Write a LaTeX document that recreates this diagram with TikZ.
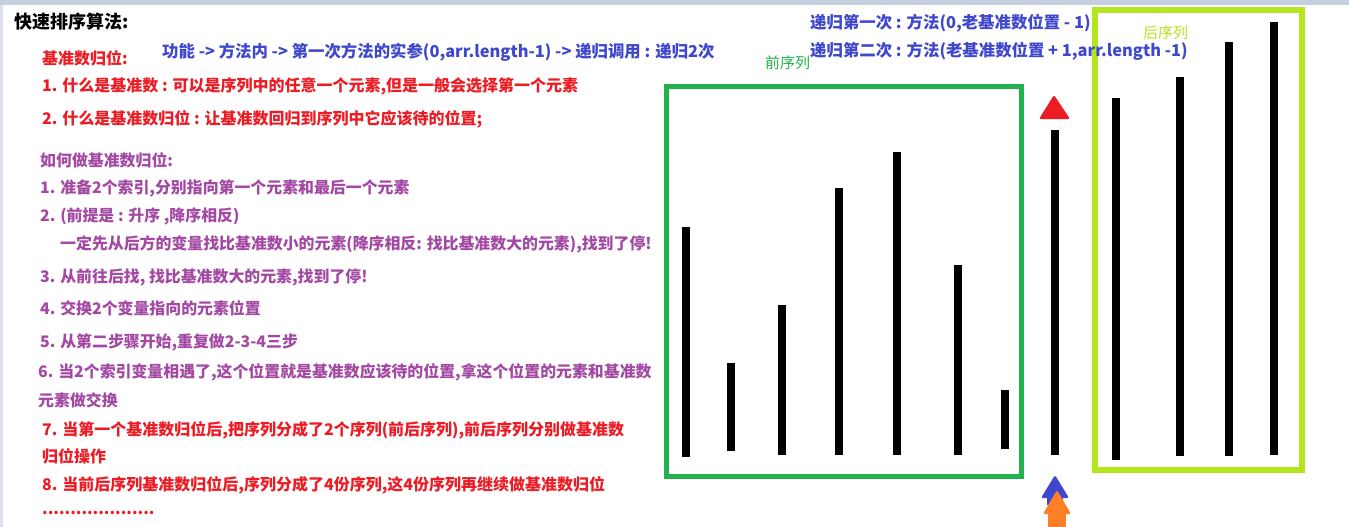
\documentclass[tikz,border=0pt]{standalone}
\usepackage{fontspec}
\setmainfont{Noto Sans CJK SC}
\definecolor{cred}{HTML}{ED1C24}
\definecolor{cpurple}{HTML}{A349A4}
\definecolor{cblue}{HTML}{3F48CC}
\definecolor{cgreen}{HTML}{22B14C}
\definecolor{cyell}{HTML}{B5E61D}
\definecolor{corange}{HTML}{FF7F27}
\definecolor{ctop}{HTML}{C5CFE0}
\definecolor{cleft}{HTML}{D8E2EE}
\tikzset{
  txt/.style={anchor=west, inner sep=0pt, font=\bfseries\fontsize{16}{18}\selectfont},
  redtxt/.style={txt, text=cred},
  purtxt/.style={txt, text=cpurple, font=\bfseries\fontsize{15.9}{18}\selectfont},
  bluetxt/.style={txt, text=cblue, font=\bfseries\fontsize{16.4}{18}\selectfont},
  bar/.style={line width=8pt, black},
}
\begin{document}
\begin{tikzpicture}[x=1pt,y=-1pt]
\useasboundingbox (0,0) rectangle (1349,527);
\fill[white] (0,0) rectangle (1349,527);
\fill[ctop] (0,0) rectangle (1349,5);
\fill[cleft] (0,5) rectangle (3,527);

% boxes
\draw[cgreen, line width=5pt] (666,86) rectangle (1021,476);
\draw[cyell, line width=6pt] (1095,10) rectangle (1302,470);

% bars
\foreach \x/\t/\b in {686/227/457, 731/363/451, 782/305/455, 839/188/455, 897/152/455, 958/265/455, 1005/390/449, 1055/130/455, 1116/98/460, 1180/77/456, 1229/42/456, 1274/22/455}
  \draw[bar] (\x,\b) -- (\x,\t);

% arrows
\fill[cred, rounded corners=2pt] (1039,119) -- (1054,95) -- (1070,119) -- cycle;
\fill[cblue] (1047,498) rectangle (1063,505);
\fill[cblue, rounded corners=1.5pt] (1041,498) -- (1055,475) -- (1069,498) -- cycle;
\fill[corange, rounded corners=1.5pt] (1043,514) -- (1057,490) -- (1071,514) -- cycle;
\fill[corange] (1048,513) rectangle (1066,527);

% labels
\node[txt, text=cgreen, font=\fontsize{15}{17}\selectfont] (front) at (765,63) {前序列};
\node[txt, text=cyell, font=\fontsize{15}{17}\selectfont] (back) at (1143,33) {后序列};

\node[txt, font=\bfseries\fontsize{18}{20}\selectfont] (title) at (14,22) {快速排序算法:};
\node[redtxt] (h1) at (42,58) {基准数归位:};
\node[bluetxt] (func) at (162,52) {功能 -> 方法内 -> 第一次方法的实参(0,arr.length-1) -> 递归调用 : 递归2次};
\node[redtxt] (r1) at (42,86) {1. 什么是基准数 : 可以是序列中的任意一个元素,但是一般会选择第一个元素};
\node[redtxt] (r2) at (42,119) {2. 什么是基准数归位 : 让基准数回归到序列中它应该待的位置;};

\node[purtxt] (p0) at (40,160) {如何做基准数归位:};
\node[purtxt] (p1) at (40,188) {1. 准备2个索引,分别指向第一个元素和最后一个元素};
\node[purtxt] (p2) at (40,216) {2. (前提是 : 升序 ,降序相反)};
\node[purtxt] (p2b) at (60,244) {一定先从后方的变量找比基准数小的元素(降序相反: 找比基准数大的元素),找到了停!};
\node[purtxt] (p3) at (40,277) {3. 从前往后找, 找比基准数大的元素,找到了停!};
\node[purtxt] (p4) at (40,308) {4. 交换2个变量指向的元素位置};
\node[purtxt] (p5) at (40,342) {5. 从第二步骤开始,重复做2-3-4三步};
\node[purtxt] (p6) at (38,372) {6. 当2个索引变量相遇了,这个位置就是基准数应该待的位置,拿这个位置的元素和基准数};
\node[purtxt] (p6b) at (38,400) {元素做交换};

\node[redtxt] (r7) at (42,430) {7. 当第一个基准数归位后,把序列分成了2个序列(前后序列),前后序列分别做基准数};
\node[redtxt] (r7b) at (42,456) {归位操作};
\node[redtxt] (r8) at (42,485) {8. 当前后序列基准数归位后,序列分成了4份序列,这4份序列再继续做基准数归位};
\node[redtxt] (dots) at (42,513) {....................};

\node[bluetxt] (rec1) at (810,23) {递归第一次 : 方法(0,老基准数位置 - 1)};
\node[bluetxt] (rec2) at (810,51) {递归第二次 : 方法(老基准数位置 + 1,arr.length -1)};
\end{tikzpicture}
\end{document}
